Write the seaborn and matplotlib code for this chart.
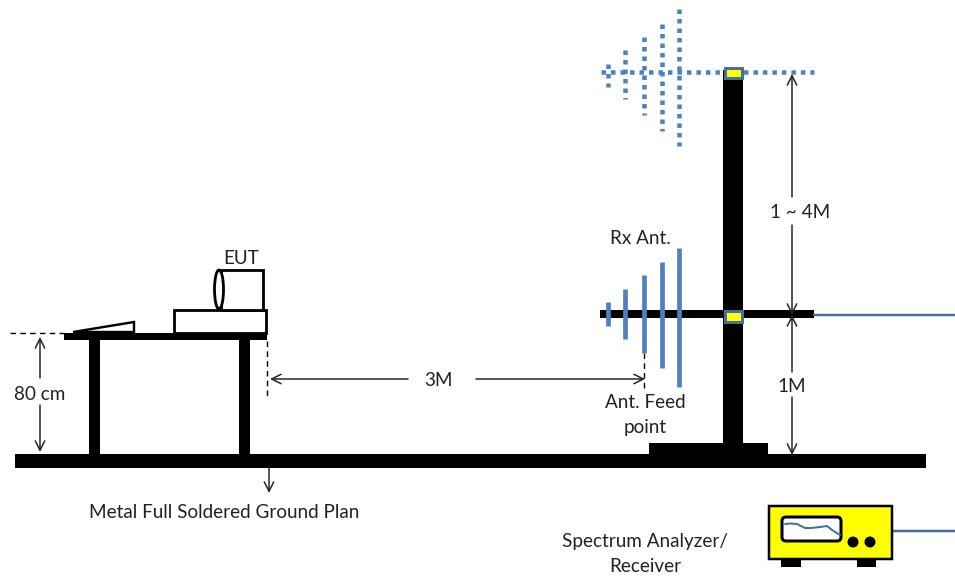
import matplotlib
matplotlib.use("Agg")
import matplotlib.pyplot as plt
from matplotlib.patches import Rectangle, Ellipse, Polygon, Circle, FancyBboxPatch
import seaborn as sns

sns.set_theme(style="white")
plt.rcParams['font.family'] = ['Lato', 'DejaVu Sans']

BLACK = "#000000"
BLUE = "#4f81bd"
DARKBLUE = "#41719c"
YELLOW = "#ffff00"
TEXT = "#222222"

# solid black bars: x0, y0, x1, y1
bars = [(15, 454, 926, 468), (64, 333, 267, 340), (89, 340, 100, 454), (239, 340, 250, 454),
        (723, 70, 743, 445), (649, 443, 768, 454), (600, 310, 814, 318)]
# antenna elements
elem_x = [608, 625, 644, 662, 679]
rx_top = [302, 289, 275, 262, 248]
rx_bot = [326, 339, 353, 368, 387]
tx_top = [64, 50, 37, 24, 9]
tx_bot = [87, 99, 115, 131, 146]
# analyzer trace
trace_x = [785, 790, 797, 805, 811, 820, 827, 832, 840]
trace_y = [524, 523.5, 524, 528, 528, 527, 526, 530, 535]
# labels
labels = [("EUT", 241, 258), ("80 cm", 40, 394), ("3M", 438, 380), ("Rx Ant.", 640, 239),
          ("1 ~ 4M", 800, 212), ("1M", 792, 386), ("Ant. Feed", 645, 403), ("point", 645, 428),
          ("Metal Full Soldered Ground Plan", 224, 513), ("Spectrum Analyzer/", 645, 542),
          ("Receiver", 645, 567)]
# arrows: tail x,y, head x,y
arrows = [(40, 378, 40, 337), (40, 405, 40, 452), (408, 379, 270, 379), (476, 379, 645, 379),
          (792, 197, 792, 74), (792, 225, 792, 315), (792, 372, 792, 315), (792, 397, 792, 455),
          (269, 468, 269, 493)]

fig = plt.figure(figsize=(9.55, 5.78), dpi=100)
ax = fig.add_axes([0, 0, 1, 1])
ax.set_xlim(0, 955)
ax.set_ylim(578, 0)
ax.axis("off")
PX = 0.72

for x0, y0, x1, y1 in bars:
    ax.add_patch(Rectangle((x0, y0), x1 - x0, y1 - y0, fc=BLACK, ec="none", zorder=2))

# feed line from the receive antenna and from the analyzer
sns.lineplot(x=[814, 955], y=[315, 315], ax=ax, color=DARKBLUE, linewidth=2.5 * PX, zorder=2)
sns.lineplot(x=[892, 955], y=[531, 531], ax=ax, color=DARKBLUE, linewidth=2.5 * PX, zorder=2)

# receive antenna
ax.vlines(elem_x, rx_top, rx_bot, color=BLUE, linewidth=4.7 * PX, zorder=3)

# dotted upper antenna
ax.plot([600.5, 814], [72, 72], color=BLUE, lw=4.5 * PX, linestyle=(0, (1, 1.11)),
        dash_capstyle="butt", zorder=3)
for x, t, b in zip(elem_x, tx_top, tx_bot):
    ax.plot([x, x], [t, b], color=BLUE, lw=4.5 * PX, linestyle=(0, (1, 1.11)),
            dash_capstyle="butt", zorder=3)

# yellow clamps
for y0, y1 in [(67.5, 77.5), (310.5, 321.5)]:
    ax.add_patch(Rectangle((724.5, y0), 17, y1 - y0, fc=YELLOW, ec=DARKBLUE, lw=3 * PX, zorder=4))

# EUT, table items
ax.add_patch(Polygon([(73, 332), (134, 322), (134, 332)], closed=True, fc="white", ec=BLACK, lw=2.4 * PX, zorder=1))
ax.add_patch(Rectangle((174, 310), 92, 23, fc="white", ec=BLACK, lw=2.8 * PX, zorder=1))
ax.add_patch(Rectangle((221, 270), 42, 40, fc="white", ec=BLACK, lw=2.8 * PX, zorder=1))
ax.add_patch(Ellipse((219, 289.5), 9, 39, fc="white", ec=BLACK, lw=2.8 * PX, zorder=1.5))

# dashed guides
dash = dict(color=BLACK, lw=1.4 * PX, linestyle=(0, (4, 3)), zorder=1)
ax.plot([10, 65], [333, 333], **dash)
ax.plot([267, 267], [341, 397], **dash)
ax.plot([644, 644], [353, 392], **dash)

# arrows
for x0, y0, x1, y1 in arrows:
    ax.annotate("", xy=(x1, y1), xytext=(x0, y0), zorder=5,
                arrowprops=dict(arrowstyle="->", color="#222222", lw=1.5 * PX,
                                mutation_scale=17, shrinkA=0, shrinkB=0))

# analyzer
ax.add_patch(Rectangle((769, 506), 123, 53, fc=YELLOW, ec=BLACK, lw=2.5 * PX, zorder=2))
ax.add_patch(FancyBboxPatch((785, 520), 53, 18, boxstyle="round,pad=3,rounding_size=4",
                            fc="white", ec=BLACK, lw=3 * PX, zorder=3))
sns.lineplot(x=trace_x, y=trace_y, ax=ax, sort=False, color=DARKBLUE, linewidth=2 * PX, zorder=4)
for cx in (853, 870):
    ax.add_patch(Circle((cx, 542), 5.5, fc=BLACK, ec="none", zorder=3))
for x0, x1 in [(781, 801), (857, 876)]:
    ax.add_patch(Rectangle((x0, 559), x1 - x0, 8, fc=BLACK, ec="none", zorder=2))

for s, x, y in labels:
    ax.text(x, y, s, ha="center", va="center", fontsize=13.6, color=TEXT, zorder=6)

fig.savefig("out.png", dpi=100)
